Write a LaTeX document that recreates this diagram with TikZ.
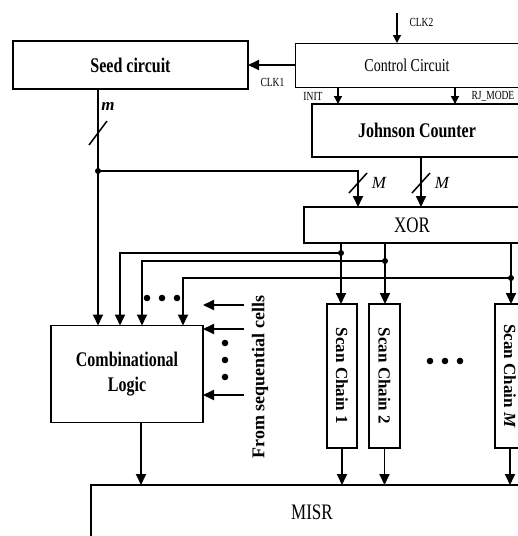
\documentclass[tikz,border=0pt]{standalone}
\usepackage{fontspec}
\setmainfont{Liberation Serif}
\usetikzlibrary{arrows.meta}
\newcommand{\fsz}[1]{\fontsize{#1}{#1}\selectfont}
\newcommand{\tall}[1]{\scalebox{1}[1.3]{#1}}
\begin{document}
\begin{tikzpicture}[x=1pt,y=-1pt,
  box/.style={draw,line width=1.8pt,inner sep=0pt,outer sep=0pt,align=center},
  ln/.style={line width=1.8pt},
  arr/.style={line width=1.8pt,-{Triangle[length=11pt,width=10pt]}},
  sarr/.style={line width=1.3pt,-{Triangle[length=8pt,width=8pt]}},
  jdot/.style={circle,fill,inner sep=0pt,minimum size=6pt},
  small/.style={font=\fsz{9.5}},
  big/.style={font=\fsz{16}\bfseries},
  slash/.style={line width=1.5pt}
]
\clip (0,0) rectangle (518,536);
\fill[white] (0,0) rectangle (518,536);

% blocks
\node[box,line width=2.2pt,minimum width=235pt,minimum height=48pt,big] (seed) at (130.5,65) {\tall{Seed circuit}};
\node[box,line width=0.9pt,minimum width=224pt,minimum height=44pt,font=\fsz{14}] (ctrl) at (407,65) {\tall{Control Circuit}};
\node[box,line width=2.2pt,minimum width=210pt,minimum height=53pt,big] (jc) at (417,130.5) {\tall{Johnson Counter}};
\node[box,minimum width=216pt,minimum height=36pt,font=\fsz{17}] (xor) at (412,225) {\tall{XOR}};
\node[box,minimum width=152pt,minimum height=97pt,font=\fontsize{16}{25}\selectfont\bfseries] (comb) at (127,374) {\tall{Combinational}\\\tall{Logic}};
\node[box,minimum width=30pt,minimum height=144pt] (sc1) at (342,376) {\fsz{17}\bfseries\rotatebox{-90}{Scan Chain 1}};
\node[box,minimum width=31pt,minimum height=144pt] (sc2) at (384.5,376) {\fsz{17}\bfseries\rotatebox{-90}{Scan Chain 2}};
\node[box,minimum width=30pt,minimum height=144pt] (scm) at (510,376) {\fsz{17}\bfseries\rotatebox{-90}{Scan Chain \textit{M}}};
\node[box,minimum width=442pt,minimum height=55pt,font=\fsz{17}] (misr) at (312,512.5) {\tall{MISR}};

% control signals
\draw[arr] (ctrl.west) -- (seed.east);
\node[small,anchor=west] (clk1) at (257,82) {\tall{CLK1}};
\coordinate (clk2) at (397,13);
\draw[sarr] (clk2) -- (clk2|-ctrl.north);
\node[small,anchor=west] (clk2l) at (406,22) {\tall{CLK2}};
\coordinate (xi) at (338,0);
\coordinate (xr) at (455,0);
\draw[sarr] (xi|-ctrl.south) -- (xi|-jc.north);
\draw[sarr] (xr|-ctrl.south) -- (xr|-jc.north);
\node[small,anchor=east] (init) at (326,96) {\tall{INIT}};
\node[small,anchor=west] (rj) at (468,96) {\tall{RJ\_MODE}};

% seed to comb and XOR
\coordinate (j0) at (98,171);
\coordinate (xa) at (358,0);
\coordinate (xb) at (421,0);
\draw[ln] (seed.south-|j0) -- (j0);
\draw[arr] (j0) -- (j0|-comb.north);
\draw[arr] (j0) -| (xa|-xor.north);
\draw[arr] (xb|-jc.south) -- (xb|-xor.north);
\node[jdot] (j0d) at (j0) {};
\draw[slash] (89,145) -- (107,121);
\node[font=\fsz{17}\bfseries\itshape] (mlab) at (108,106) {m};
\draw[slash] (349,193) -- (367,173);
\node[font=\fsz{17}\itshape] (M1) at (379,183) {M};
\draw[slash] (412,193) -- (430,173);
\node[font=\fsz{17}\itshape] (M2) at (442,183) {M};

% XOR outputs
\coordinate (d1) at (341,253);
\coordinate (d2) at (385,261);
\coordinate (d3) at (511,278);
\coordinate (c1) at (120,0);
\coordinate (c2) at (142,0);
\coordinate (c3) at (183,0);
\draw[arr] (d1|-xor.south) -- (d1|-sc1.north);
\draw[arr] (d2|-xor.south) -- (d2|-sc2.north);
\draw[arr] (d3|-xor.south) -- (d3|-scm.north);
\draw[arr] (d1) -| (c1|-comb.north);
\draw[arr] (d2) -| (c2|-comb.north);
\draw[arr] (d3) -| (c3|-comb.north);
\node[jdot] (d1d) at (d1) {};
\node[jdot] (d2d) at (d2) {};
\node[jdot] (d3d) at (d3) {};
\foreach \x in {147,162,177} \fill (\x,298) circle (3.3pt);
\foreach \x in {430,445,460} \fill (\x,361) circle (3.3pt);
\foreach \y in {343,360,377} \fill (225,\y) circle (3.3pt);

% from sequential cells
\coordinate (f1) at (244,305);
\coordinate (f2) at (244,329);
\coordinate (f3) at (244,395);
\draw[arr] (f1) -- (f1-|comb.east);
\draw[arr] (f2) -- (f2-|comb.east);
\draw[arr] (f3) -- (f3-|comb.east);
\node[rotate=90,font=\fsz{18}\bfseries] (fsc) at (260,377) {From sequential cells};

% to MISR
\coordinate (cb) at (141,0);
\draw[arr] (cb|-comb.south) -- (cb|-misr.north);
\draw[arr] (sc1.south) -- (sc1.south|-misr.north);
\draw[arr] (sc2.south) -- (sc2.south|-misr.north);
\draw[arr] (scm.south) -- (scm.south|-misr.north);
\end{tikzpicture}
\end{document}
